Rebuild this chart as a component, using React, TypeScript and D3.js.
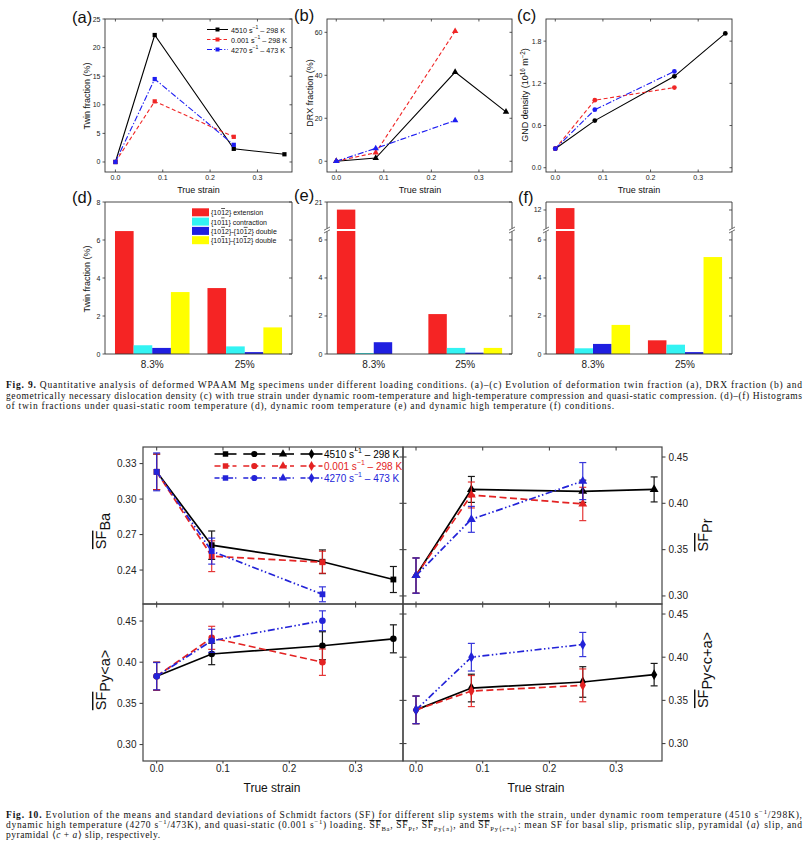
import React from "react";
import * as d3 from "d3";

const SANS = "'Liberation Sans', Arial, Helvetica, sans-serif";
const SERIF = "'Liberation Serif', 'Times New Roman', serif";

// ---------------- Fig. 9 (a)-(c) ----------------
const strainDyn9 = [0, 0.083, 0.25, 0.357];
const strainQS9 = [0, 0.083, 0.25];
const strainHT9 = [0, 0.083, 0.25];
const twinDyn = [0, 22.2, 2.3, 1.35];
const twinQS = [0, 10.6, 4.4];
const twinHT = [0, 14.5, 3.0];
const drxDyn = [0, 1.5, 41.5, 23.0];
const drxQS = [0, 4.0, 60.5];
const drxHT = [0, 6.0, 19.0];
const gndDyn = [0.27, 0.67, 1.3, 1.91];
const gndQS = [0.27, 0.96, 1.14];
const gndHT = [0.27, 0.825, 1.37];
const strainTicks = [0, 0.1, 0.2, 0.3];
const twinTicks = [0, 5, 10, 15, 20, 25];
const drxTicks = [0, 20, 40, 60];
const gndTicks = [0, 0.6, 1.2, 1.8];
const loadRates = ["4510", "0.001", "4270"];
const loadTemps = ["298 K", "298 K", "473 K"];

// ---------------- Fig. 9 (d)-(f) ----------------
const strainGroups = ["8.3%", "25%"];
const twinTypes = [
  "{10~12} extension",
  "{10~11} contraction",
  "{10~12}-{10~12} double",
  "{10~11}-{10~12} double",
];
const twinD83 = [6.47, 0.46, 0.32, 3.26];
const twinD25 = [3.47, 0.4, 0.1, 1.4];
const twinE83 = [20.6, 0.05, 0.62, 0];
const twinE25 = [2.1, 0.32, 0.07, 0.32];
const twinF83 = [12.1, 0.3, 0.53, 1.53];
const twinF25 = [0.72, 0.49, 0.1, 5.1];
const barTicksD = [0, 2, 4, 6, 8];
const barTicksLow = [0, 2, 4, 6];
const barUpTickE = [21];
const barUpTickF = [12];

// ---------------- Fig. 10 ----------------
const strainDyn10 = [0, 0.083, 0.25, 0.357];
const strainQS10 = [0, 0.083, 0.25];
const strainHT10 = [0, 0.083, 0.25];
const sfBaDyn = [0.323, 0.261, 0.247, 0.232];
const sfBaDynErr = [0.015, 0.012, 0.01, 0.011];
const sfBaQS = [0.323, 0.2517, 0.2466];
const sfBaQSErr = [0.015, 0.013, 0.0093];
const sfBaHT = [0.323, 0.256, 0.2195];
const sfBaHTErr = [0.016, 0.011, 0.0063];
const sfPrDyn = [0.322, 0.415, 0.413, 0.415];
const sfPrDynErr = [0.019, 0.014, 0.012, 0.0135];
const sfPrQS = [0.322, 0.409, 0.3993];
const sfPrQSErr = [0.019, 0.014, 0.018];
const sfPrHT = [0.322, 0.3827, 0.424];
const sfPrHTErr = [0.019, 0.014, 0.02];
const sfPyaDyn = [0.383, 0.41, 0.42, 0.4284];
const sfPyaDynErr = [0.017, 0.013, 0.017, 0.017];
const sfPyaQS = [0.383, 0.4296, 0.4];
const sfPyaQSErr = [0.017, 0.014, 0.016];
const sfPyaHT = [0.383, 0.426, 0.4504];
const sfPyaHTErr = [0.0166, 0.014, 0.012];
const sfPycaDyn = [0.339, 0.3643, 0.3713, 0.3798];
const sfPycaDynErr = [0.016, 0.016, 0.0177, 0.013];
const sfPycaQS = [0.339, 0.3608, 0.3674];
const sfPycaQSErr = [0.016, 0.018, 0.019];
const sfPycaHT = [0.339, 0.4, 0.4147];
const sfPycaHTErr = [0.016, 0.016, 0.014];
const sfBaTicks = [0.24, 0.27, 0.3, 0.33];
const sfTicks = [0.3, 0.35, 0.4, 0.45];

const BLACK = "#000000";
const RED9 = "#f02626";
const BLUE9 = "#1d1df2";
const RED = "#e32222";
const BLUE = "#2323d8";
const barColors = ["#f52424", "#33f3f3", "#1f1fe0", "#ffff00"];

type Seg = [string, string?];
function rich(segs: Seg[], fs: number) {
  let cur = 0;
  return segs.map(([t, k = "n"], i) => {
    const target = k === "sup" ? -fs * 0.38 : k === "sub" ? fs * 0.28 : 0;
    const dy = target - cur;
    cur = target;
    return (
      <tspan
        key={i}
        dy={dy}
        fontSize={k === "sup" || k === "sub" ? fs * 0.7 : undefined}
        fontWeight={k === "b" ? "bold" : undefined}
        fontStyle={k === "i" ? "italic" : undefined}
        style={k === "ov" ? { textDecoration: "overline" } : undefined}
      >
        {t}
      </tspan>
    );
  });
}

function twinSegs(s: string): Seg[] {
  const parts = s.split("~");
  const out: Seg[] = [[parts[0]]];
  for (let i = 1; i < parts.length; i++) {
    out.push([parts[i].charAt(0), "ov"]);
    out.push([parts[i].slice(1)]);
  }
  return out;
}

type Ser = { xs: number[]; ys: number[]; errs?: number[]; color: string; dash?: string };
type LP = {
  x0: number; x1: number; y0: number; y1: number;
  xDomain: [number, number]; yDomain: [number, number];
  xTicks: number[]; yTicks: number[]; yFmt: (v: number) => string;
  series: Ser[]; symbol: d3.SymbolType; symSize: number; lw: number;
  fs: number; tl: number; ySide: "left" | "right"; yOut: boolean;
  farTicks: "in" | "cross" | "none"; bottomOut: boolean; xLabels: boolean;
  xLabelY: number; yLabelGap: number; stroke: string; sw: number; cap: number; btl?: number;
};

function LinePanel(p: LP) {
  const x = d3.scaleLinear().domain(p.xDomain).range([p.x0, p.x1]);
  const y = d3.scaleLinear().domain(p.yDomain).range([p.y1, p.y0]);
  const gen = d3.line<[number, number]>().x((d) => x(d[0])).y((d) => y(d[1]));
  const sym = d3.symbol().type(p.symbol).size(p.symSize)() || "";
  const left = p.ySide === "left";
  const ax = left ? p.x0 : p.x1;
  const far = left ? p.x1 : p.x0;
  const od = left ? -1 : 1;
  const tl = p.tl;
  const btl = p.btl ?? tl;
  const ydir = p.yOut ? od : -od;
  return (
    <g>
      {p.yTicks.map((v) => (
        <g key={"yt" + v}>
          <line x1={ax} x2={ax + ydir * tl} y1={y(v)} y2={y(v)} stroke={p.stroke} strokeWidth={p.sw * 0.9} />
          {p.farTicks !== "none" && (
            <line
              x1={p.farTicks === "cross" ? far - od * tl : far}
              x2={far + od * tl}
              y1={y(v)}
              y2={y(v)}
              stroke={p.stroke}
              strokeWidth={p.sw * 0.9}
            />
          )}
          <text
            x={ax + od * p.yLabelGap}
            y={y(v)}
            textAnchor={left ? "end" : "start"}
            dominantBaseline="central"
            fontSize={p.fs}
            fill="#222"
          >
            {p.yFmt(v)}
          </text>
        </g>
      ))}
      {p.xTicks.map((v) => (
        <g key={"xt" + v}>
          <line x1={x(v)} x2={x(v)} y1={p.y1} y2={p.bottomOut ? p.y1 + btl : p.y1 - btl} stroke={p.stroke} strokeWidth={p.sw * 0.9} />
          <line x1={x(v)} x2={x(v)} y1={p.y0} y2={p.y0 + tl} stroke={p.stroke} strokeWidth={p.sw * 0.9} />
          {p.xLabels && (
            <text x={x(v)} y={p.xLabelY} textAnchor="middle" dominantBaseline="central" fontSize={p.fs} fill="#222">
              {d3.format(".1f")(v)}
            </text>
          )}
        </g>
      ))}
      {p.series.map((s, si) => {
        const pts = s.xs.map((v, i) => [v, s.ys[i]] as [number, number]);
        return (
          <g key={"s" + si}>
            <path d={gen(pts) || ""} fill="none" stroke={s.color} strokeWidth={p.lw} strokeDasharray={s.dash} />
            {s.errs &&
              pts.map((d, i) => {
                const e = s.errs![i];
                const cx = x(d[0]);
                return (
                  <g key={"e" + i} stroke={s.color} strokeWidth={1.2} opacity={0.9}>
                    <line x1={cx} x2={cx} y1={y(d[1] - e)} y2={y(d[1] + e)} />
                    <line x1={cx - p.cap} x2={cx + p.cap} y1={y(d[1] - e)} y2={y(d[1] - e)} />
                    <line x1={cx - p.cap} x2={cx + p.cap} y1={y(d[1] + e)} y2={y(d[1] + e)} />
                  </g>
                );
              })}
            {pts.map((d, i) => (
              <path key={"m" + i} d={sym} transform={`translate(${x(d[0])},${y(d[1])})`} fill={s.color} />
            ))}
          </g>
        );
      })}
      <rect x={p.x0} y={p.y0} width={p.x1 - p.x0} height={p.y1 - p.y0} fill="none" stroke={p.stroke} strokeWidth={p.sw} />
    </g>
  );
}

type BP = {
  x0: number; x1: number; y0: number; y1: number; v83: number[]; v25: number[];
  ticks: number[]; yMax: number;
  brk?: { lowMax: number; upDomain: [number, number]; upTicks: number[]; yBreak: number };
};

function BarPanel(p: BP) {
  const xb = d3.scaleBand<string>().domain(strainGroups).range([p.x0, p.x1]).paddingInner(0.194).paddingOuter(0.108);
  const xi = d3.scaleBand<number>().domain(d3.range(4)).range([0, xb.bandwidth()]);
  const yb = p.brk ? p.brk.yBreak : 0;
  const low = d3.scaleLinear().domain([0, p.brk ? p.brk.lowMax : p.yMax]).range([p.y1, p.brk ? yb + 1 : p.y0]);
  const up = p.brk ? d3.scaleLinear().domain(p.brk.upDomain).range([yb - 1, p.y0]) : null;
  const yOf = (v: number) => (up && p.brk && v > p.brk.lowMax ? up(v) : low(v));
  const groups = [p.v83, p.v25];
  const st = "#333";
  const tickLines = (sc: d3.ScaleLinear<number, number>, ticks: number[], fmt: (v: number) => string) =>
    ticks.map((v) => (
      <g key={"t" + v + sc(v)}>
        <line x1={p.x0} x2={p.x0 - 2.5} y1={sc(v)} y2={sc(v)} stroke={st} strokeWidth={0.8} />
        <line x1={p.x1} x2={p.x1 - 3} y1={sc(v)} y2={sc(v)} stroke={st} strokeWidth={0.8} />
        <text x={p.x0 - 4.5} y={sc(v)} textAnchor="end" dominantBaseline="central" fontSize={7} fill="#222">
          {fmt(v)}
        </text>
      </g>
    ));
  return (
    <g>
      {groups.map((vals, gi) =>
        vals.map((v, i) =>
          v > 0 ? (
            <rect
              key={gi + "-" + i}
              x={(xb(strainGroups[gi]) || 0) + (xi(i) || 0)}
              y={yOf(v)}
              width={xi.bandwidth()}
              height={p.y1 - yOf(v)}
              fill={barColors[i]}
            />
          ) : null
        )
      )}
      {p.brk && <rect x={p.x0 + 1} y={yb - 1} width={p.x1 - p.x0 - 2} height={2} fill="#fff" />}
      {tickLines(low, p.ticks, d3.format("d"))}
      {up && p.brk && tickLines(up, p.brk.upTicks, d3.format("d"))}
      <line x1={p.x0} x2={p.x1} y1={p.y0} y2={p.y0} stroke={st} strokeWidth={0.9} />
      <line x1={p.x0} x2={p.x1} y1={p.y1} y2={p.y1} stroke={st} strokeWidth={0.9} />
      {[p.x0, p.x1].map((ax) =>
        p.brk ? (
          <g key={"ax" + ax}>
            <line x1={ax} x2={ax} y1={p.y0} y2={yb - 1.5} stroke={st} strokeWidth={0.9} />
            <line x1={ax} x2={ax} y1={yb + 1.5} y2={p.y1} stroke={st} strokeWidth={0.9} />
            {[-1.4, 1.4].map((o) => (
              <line key={o} x1={ax - 3} x2={ax + 3} y1={yb + o + 1.6} y2={yb + o - 1.6} stroke={st} strokeWidth={0.7} />
            ))}
          </g>
        ) : (
          <line key={"ax" + ax} x1={ax} x2={ax} y1={p.y0} y2={p.y1} stroke={st} strokeWidth={0.9} />
        )
      )}
      {strainGroups.map((g) => (
        <text
          key={g}
          x={(xb(g) || 0) + xb.bandwidth() / 2}
          y={364.5}
          textAnchor="middle"
          dominantBaseline="central"
          fontSize={10}
          fill="#222"
        >
          {g}
        </text>
      ))}
    </g>
  );
}

function Legend9({ x, ys, symbol }: { x: number; ys: number[]; symbol: d3.SymbolType }) {
  const cols = [BLACK, RED9, BLUE9];
  const dashes = [undefined, "3.5,2", "5,2,1.2,2"];
  const sym = d3.symbol().type(symbol).size(16)() || "";
  return (
    <g>
      {ys.map((yy, i) => (
        <g key={i}>
          <line x1={x} x2={x + 21} y1={yy} y2={yy} stroke={cols[i]} strokeWidth={1} strokeDasharray={dashes[i]} />
          <path d={sym} transform={`translate(${x + 10.5},${yy})`} fill={cols[i]} />
          <text x={x + 24} y={yy} dominantBaseline="central" fontSize={7.2} fill="#111">
            {rich([[loadRates[i] + " s"], ["−1", "sup"], [" – " + loadTemps[i]]], 7.2)}
          </text>
        </g>
      ))}
    </g>
  );
}

function Legend10({ ys }: { ys: number[] }) {
  const cols = [BLACK, RED, BLUE];
  const dashes = [undefined, "6,3", "5,2,1.3,2,1.3,2"];
  const syms = [d3.symbolSquare, d3.symbolCircle, d3.symbolTriangle, d3.symbolDiamond];
  const cxs = [225.5, 254.3, 283, 311.5];
  return (
    <g>
      {ys.map((yy, i) => (
        <g key={i}>
          {cxs.map((cx, k) => (
            <g key={k}>
              <line x1={cx - 11} x2={cx + 11} y1={yy} y2={yy} stroke={cols[i]} strokeWidth={1.6} strokeDasharray={dashes[i]} />
              <path d={d3.symbol().type(syms[k]).size(30)() || ""} transform={`translate(${cx},${yy})`} fill={cols[i]} />
            </g>
          ))}
          <text x={324} y={yy} dominantBaseline="central" fontSize={10} fill={cols[i]}>
            {rich([[loadRates[i] + " s"], ["−1", "sup"], [" – " + loadTemps[i]]], 10)}
          </text>
        </g>
      ))}
    </g>
  );
}

function SFLabel({ x, y, sub }: { x: number; y: number; sub: string }) {
  return (
    <text transform={`translate(${x},${y}) rotate(-90)`} textAnchor="middle" dominantBaseline="central" fontSize={14.5} fill="#111">
      <tspan style={{ textDecoration: "overline" }}>SF</tspan>
      <tspan dy={4}>{sub}</tspan>
    </text>
  );
}

const cap9: Seg[][] = [
  [["Fig. 9.", "b"], [" Quantitative analysis of deformed WPAAM Mg specimens under different loading conditions. (a)–(c) Evolution of deformation twin fraction (a), DRX fraction (b) and"]],
  [["geometrically necessary dislocation density (c) with true strain under dynamic room-temperature and high-temperature compression and quasi-static compression. (d)–(f) Histograms"]],
  [["of twin fractions under quasi-static room temperature (d), dynamic room temperature (e) and dynamic high temperature (f) conditions."]],
];
const cap10: Seg[][] = [
  [["Fig. 10.", "b"], [" Evolution of the means and standard deviations of Schmidt factors (SF) for different slip systems with the strain, under dynamic room temperature (4510 s"], ["−1", "sup"], ["/298K),"]],
  [
    ["dynamic high temperature (4270 s"], ["−1", "sup"], ["/473K), and quasi-static (0.001 s"], ["−1", "sup"], [") loading. "],
    ["SF", "ov"], ["Ba", "sub"], [", "], ["SF", "ov"], ["Pr", "sub"], [", "], ["SF", "ov"], ["Py⟨a⟩", "sub"], [", and "],
    ["SF", "ov"], ["Py⟨c+a⟩", "sub"], [": mean SF for basal slip, prismatic slip, pyramidal ⟨"], ["a", "i"], ["⟩ slip, and"],
  ],
  [["pyramidal ⟨"], ["c", "i"], [" + "], ["a", "i"], ["⟩ slip, respectively."]],
];

export default function App() {
  const f9 = {
    y0: 19, y1: 172, xTicks: strainTicks, symSize: 18, lw: 1.1, fs: 7, tl: 2.5, ySide: "left" as const,
    yOut: true, farTicks: "in" as const, bottomOut: false, xLabels: true, xLabelY: 177.5, yLabelGap: 4.5,
    stroke: "#333", sw: 0.9, cap: 0,
  };
  const ser9 = (d: number[], q: number[], h: number[]): Ser[] => [
    { xs: strainDyn9, ys: d, color: BLACK },
    { xs: strainQS9, ys: q, color: RED9, dash: "4,2.5" },
    { xs: strainHT9, ys: h, color: BLUE9, dash: "6,2,1.3,2" },
  ];
  const f10 = {
    xTicks: strainTicks, symSize: 34, lw: 1.7, fs: 10, tl: 3.5, btl: 2.5, yOut: true, stroke: "#444", sw: 1.2, cap: 3.5,
    yLabelGap: 6.5,
  };
  const ser10 = (d: number[], de: number[], q: number[], qe: number[], h: number[], he: number[]): Ser[] => [
    { xs: strainDyn10, ys: d, errs: de, color: BLACK },
    { xs: strainQS10, ys: q, errs: qe, color: RED, dash: "7,3.5" },
    { xs: strainHT10, ys: h, errs: he, color: BLUE, dash: "7,2.5,1.5,2.5,1.5,2.5" },
  ];
  return (
    <svg width={809} height={858} style={{ position: "absolute", left: 0, top: 0 }} fontFamily={SANS}>
      <rect width={809} height={858} fill="#fff" />

      {/* Fig 9 (a)-(c) */}
      <LinePanel {...f9} x0={105} x1={292} xDomain={[-0.022, 0.373]} yDomain={[-1.75, 25]} yTicks={twinTicks}
        yFmt={d3.format("d")} series={ser9(twinDyn, twinQS, twinHT)} symbol={d3.symbolSquare} />
      <LinePanel {...f9} x0={327} x1={512} xDomain={[-0.0195, 0.3696]} yDomain={[-5, 66.2]} yTicks={drxTicks}
        yFmt={d3.format("d")} series={ser9(drxDyn, drxQS, drxHT)} symbol={d3.symbolTriangle} />
      <LinePanel {...f9} x0={546} x1={732} xDomain={[-0.0195, 0.371]} yDomain={[-0.061, 2.115]} yTicks={gndTicks}
        yFmt={d3.format(".1f")} series={ser9(gndDyn, gndQS, gndHT)} symbol={d3.symbolCircle} />
      <Legend9 x={207} ys={[29.5, 39.5, 49.5]} symbol={d3.symbolSquare} />

      {[[198.5, "True strain"], [420, "True strain"], [639, "True strain"]].map(([cx, t], i) => (
        <text key={"ts" + i} x={cx as number} y={190} textAnchor="middle" dominantBaseline="central" fontSize={9} fill="#111">
          {t}
        </text>
      ))}
      <text transform="translate(87,96) rotate(-90)" textAnchor="middle" dominantBaseline="central" fontSize={9} fill="#111">Twin fraction (%)</text>
      <text transform="translate(310,93) rotate(-90)" textAnchor="middle" dominantBaseline="central" fontSize={9} fill="#111">DRX fraction (%)</text>
      <text transform="translate(525,95) rotate(-90)" textAnchor="middle" dominantBaseline="central" fontSize={9} fill="#111">
        {rich([["GND density (10"], ["16", "sup"], [" m"], ["−2", "sup"], [")"]], 9)}
      </text>
      <text transform="translate(87,279) rotate(-90)" textAnchor="middle" dominantBaseline="central" fontSize={9} fill="#111">Twin fraction (%)</text>

      {[["(a)", 72, 17], ["(b)", 294, 15], ["(c)", 517, 15], ["(d)", 72, 197], ["(e)", 294, 195], ["(f)", 518, 197]].map(([t, x, y]) => (
        <text key={t as string} x={x as number} y={y as number} dominantBaseline="central" fontSize={16.5} fill="#111">
          {t}
        </text>
      ))}

      {/* Fig 9 (d)-(f) */}
      <BarPanel x0={105} x1={292} y0={202} y1={354} v83={twinD83} v25={twinD25} ticks={barTicksD} yMax={8} />
      <BarPanel x0={327} x1={512} y0={202} y1={354} v83={twinE83} v25={twinE25} ticks={barTicksLow} yMax={8}
        brk={{ lowMax: 6.47, upDomain: [19.58, 21], upTicks: barUpTickE, yBreak: 230 }} />
      <BarPanel x0={546} x1={732} y0={202} y1={354} v83={twinF83} v25={twinF25} ticks={barTicksLow} yMax={8}
        brk={{ lowMax: 6.47, upDomain: [11.0, 12.42], upTicks: barUpTickF, yBreak: 230 }} />
      {twinTypes.map((t, i) => (
        <g key={t}>
          <rect x={192} y={208.3 + i * 9.3} width={17} height={8} fill={barColors[i]} />
          <text x={211} y={212.3 + i * 9.3} dominantBaseline="central" fontSize={7} fill="#111">
            {rich(twinSegs(t), 7)}
          </text>
        </g>
      ))}

      {/* Fig 9 caption */}
      {cap9.map((segs, i) => (
        <text key={"c9" + i} x={6} y={388 + i * 10.5} fontFamily={SERIF} fontSize={9.5} fill="#111"
          textLength={i < 2 ? 796 : 608} lengthAdjust="spacing">
          {rich(segs, 9.5)}
        </text>
      ))}

      {/* Fig 10 */}
      <LinePanel {...f10} x0={143} x1={403} y0={447} y1={604} xDomain={[-0.0206, 0.3715]} yDomain={[0.2113, 0.344]}
        yTicks={sfBaTicks} yFmt={d3.format(".2f")} ySide="left" farTicks="none" bottomOut={false} xLabels={false} xLabelY={0}
        series={ser10(sfBaDyn, sfBaDynErr, sfBaQS, sfBaQSErr, sfBaHT, sfBaHTErr)} symbol={d3.symbolSquare} />
      <LinePanel {...f10} x0={403} x1={662} y0={447} y1={604} xDomain={[-0.0195, 0.3688]} yDomain={[0.2913, 0.4608]}
        yTicks={sfTicks} yFmt={d3.format(".2f")} ySide="right" farTicks="cross" bottomOut={false} xLabels={false} xLabelY={0}
        series={ser10(sfPrDyn, sfPrDynErr, sfPrQS, sfPrQSErr, sfPrHT, sfPrHTErr)} symbol={d3.symbolTriangle} />
      <LinePanel {...f10} x0={143} x1={403} y0={604} y1={761} xDomain={[-0.0206, 0.3715]} yDomain={[0.28, 0.4707]}
        yTicks={sfTicks} yFmt={d3.format(".2f")} ySide="left" farTicks="none" bottomOut={true} xLabels={true} xLabelY={768.5}
        series={ser10(sfPyaDyn, sfPyaDynErr, sfPyaQS, sfPyaQSErr, sfPyaHT, sfPyaHTErr)} symbol={d3.symbolCircle} />
      <LinePanel {...f10} x0={403} x1={662} y0={604} y1={761} xDomain={[-0.0195, 0.3688]} yDomain={[0.2798, 0.4616]}
        yTicks={sfTicks} yFmt={d3.format(".2f")} ySide="right" farTicks="cross" bottomOut={true} xLabels={true} xLabelY={768.5}
        series={ser10(sfPycaDyn, sfPycaDynErr, sfPycaQS, sfPycaQSErr, sfPycaHT, sfPycaHTErr)} symbol={d3.symbolDiamond} />
      <Legend10 ys={[454, 466, 478]} />
      <SFLabel x={101} y={531} sub="Ba" />
      <SFLabel x={703} y={535} sub="Pr" />
      <SFLabel x={101} y={680} sub="Py<a>" />
      <SFLabel x={703} y={670} sub="Py<c+a>" />
      <text x={272} y={788} textAnchor="middle" dominantBaseline="central" fontSize={12} fill="#111">True strain</text>
      <text x={536} y={788} textAnchor="middle" dominantBaseline="central" fontSize={12} fill="#111">True strain</text>

      {/* Fig 10 caption */}
      {cap10.map((segs, i) => (
        <text key={"c10" + i} x={6} y={818 + i * 10} fontFamily={SERIF} fontSize={9.5} fill="#111"
          textLength={i < 2 ? 796 : 154} lengthAdjust="spacing">
          {rich(segs, 9.5)}
        </text>
      ))}
    </svg>
  );
}
